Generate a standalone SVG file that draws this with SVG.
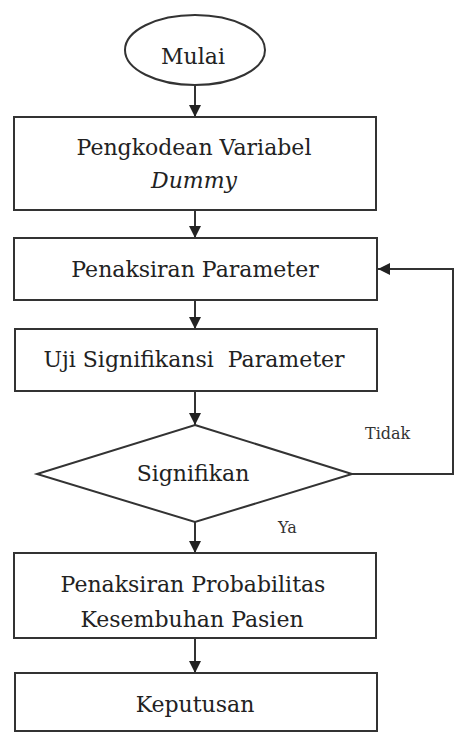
<svg xmlns="http://www.w3.org/2000/svg" width="455" height="733" viewBox="0 0 455 733">
<defs>
<style>
.box{fill:#fff;stroke:#333;stroke-width:2}
.t{font-family:'DejaVu Serif','Liberation Serif',serif;font-size:22px;fill:#222;text-anchor:middle}
.s{font-family:'DejaVu Serif','Liberation Serif',serif;font-size:16px;fill:#333}
.ln{fill:none;stroke:#333;stroke-width:2}
</style>
<marker id="ah" viewBox="0 0 12 12" refX="12" refY="6" markerWidth="12" markerHeight="12" markerUnits="userSpaceOnUse" orient="auto">
<path d="M0,0 L12,6 L0,12 Z" fill="#222"/>
</marker>
</defs>
<rect width="455" height="733" fill="#fff"/>
<g id="connectors">
<line class="ln" x1="195" y1="86" x2="195" y2="117" marker-end="url(#ah)"/>
<line class="ln" x1="195" y1="210" x2="195" y2="238" marker-end="url(#ah)"/>
<line class="ln" x1="195" y1="300" x2="195" y2="329" marker-end="url(#ah)"/>
<line class="ln" x1="195" y1="391" x2="195" y2="425" marker-end="url(#ah)"/>
<line class="ln" x1="195" y1="522" x2="195" y2="553" marker-end="url(#ah)"/>
<line class="ln" x1="195" y1="638" x2="195" y2="673" marker-end="url(#ah)"/>
<polyline class="ln" points="352,474 453,474 453,269 378,269" marker-end="url(#ah)"/>
<text class="s" x="365" y="439">Tidak</text>
<text class="s" x="278" y="533" font-size="17">Ya</text>
</g>
<g id="mulai">
<ellipse cx="195" cy="50" rx="70" ry="35" fill="#fff" stroke="#333" stroke-width="2"/>
<text class="t" x="193" y="64" font-size="20">Mulai</text>
</g>
<g id="pengkodean">
<rect class="box" x="14" y="117" width="362" height="93"/>
<text class="t" x="194" y="155">Pengkodean Variabel</text>
<text class="t" x="194" y="188" font-style="italic">Dummy</text>
</g>
<g id="penaksiran-parameter">
<rect class="box" x="14" y="238" width="363" height="62"/>
<text class="t" x="195" y="277">Penaksiran Parameter</text>
</g>
<g id="uji">
<rect class="box" x="15" y="329" width="362" height="62"/>
<text class="t" x="194" y="367" xml:space="preserve">Uji Signifikansi  Parameter</text>
</g>
<g id="signifikan">
<polygon points="195,425 352,474 195,522 37,474" fill="#fff" stroke="#333" stroke-width="2"/>
<text class="t" x="193" y="481">Signifikan</text>
</g>
<g id="probabilitas">
<rect class="box" x="14" y="553" width="362" height="85"/>
<text class="t" x="193" y="592">Penaksiran Probabilitas</text>
<text class="t" x="192" y="627">Kesembuhan Pasien</text>
</g>
<g id="keputusan">
<rect class="box" x="15" y="673" width="362" height="58"/>
<text class="t" x="195" y="712">Keputusan</text>
</g>
</svg>
